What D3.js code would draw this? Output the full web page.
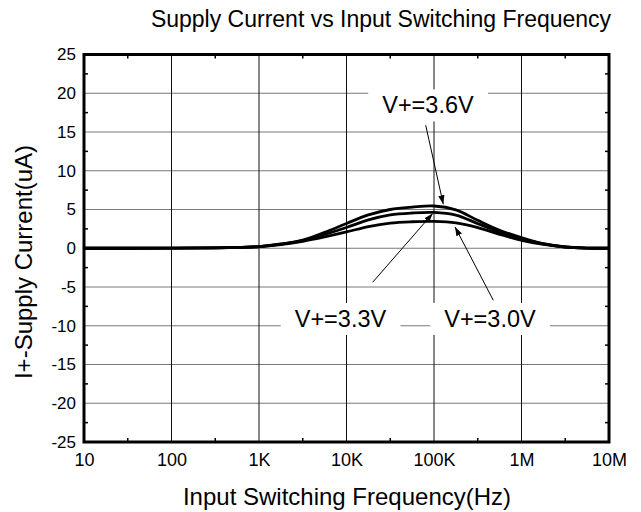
<!DOCTYPE html>
<html>
<head>
<meta charset="utf-8">
<script src="https://cdn.jsdelivr.net/npm/d3@7"></script>
<style>
  html, body { margin: 0; padding: 0; background: #fff; }
  text { font-family: Arial, "Liberation Sans", sans-serif; fill: #000; }
</style>
</head>
<body>
<svg id="chart" width="641" height="512"></svg>
<script>
// ---------- data ----------
const frequencies = [10, 100, 316, 562, 1000, 1778, 3162, 5623, 10000, 17783, 31623, 56234,
  100000, 177828, 316228, 562341, 1000000, 1778279, 3162278, 5623413, 10000000];
const current36 = [0, 0.01, 0.04, 0.1, 0.22, 0.55, 1.05, 2.05, 3.2, 4.3, 5.0, 5.3, 5.45, 4.95, 3.6, 2.32, 1.38, 0.6, 0.17, 0.02, 0];
const current33 = [0, 0.01, 0.04, 0.1, 0.21, 0.52, 0.98, 1.8, 2.68, 3.65, 4.3, 4.55, 4.62, 4.28, 3.18, 2.06, 1.2, 0.55, 0.16, 0.02, 0];
const current30 = [0, 0.01, 0.04, 0.1, 0.2, 0.48, 0.9, 1.46, 2.1, 2.8, 3.25, 3.42, 3.47, 3.28, 2.67, 1.8, 1.03, 0.5, 0.15, 0.02, 0];
const seriesNames = ["V+=3.6V", "V+=3.3V", "V+=3.0V"];
const xTickValues = [10, 100, 1000, 10000, 100000, 1000000, 10000000];
const xTickLabels = ["10", "100", "1K", "10K", "100K", "1M", "10M"];
const yTickValues = [25, 20, 15, 10, 5, 0, -5, -10, -15, -20, -25];
// annotations in data coordinates: label anchor + arrow start/end
const annotations = [
  { text: "V+=3.6V", lx: 85300, ly: 17.4, x0: 80400, y0: 15.87, x1: 127700, y1: 5.68 },
  { text: "V+=3.3V", lx: 8530, ly: -10.15, x0: 19900, y0: -4.39, x1: 96600, y1: 4.48 },
  { text: "V+=3.0V", lx: 436000, ly: -10.15, x0: 476000, y0: -6.71, x1: 174000, y1: 2.75 }
];
const title = "Supply Current vs Input Switching Frequency";
const xTitle = "Input Switching Frequency(Hz)";
const yTitle = "I+-Supply Current(uA)";

// ---------- layout ----------
const W = 641, H = 512;
const m = { left: 84, right: 32, top: 54.5, bottom: 70 };
const pw = W - m.left - m.right, ph = H - m.top - m.bottom;

const svg = d3.select("#chart");
const g = svg.append("g").attr("transform", `translate(${m.left},${m.top})`);

const x = d3.scaleLog().domain([10, 1e7]).range([0, pw]);
const y = d3.scaleLinear().domain([-25, 25]).range([ph, 0]);

// defs: arrowhead
svg.append("defs").append("marker")
  .attr("id", "arrow").attr("viewBox", "0 0 10 10")
  .attr("refX", 10).attr("refY", 5)
  .attr("markerWidth", 9).attr("markerHeight", 9)
  .attr("markerUnits", "userSpaceOnUse")
  .attr("orient", "auto")
  .append("path").attr("d", "M0,1.5 L10,5 L0,8.5 Z").attr("fill", "#000");

// horizontal gridlines (grey)
g.append("g").selectAll("line").data(yTickValues.filter(v => v > -25 && v < 25)).join("line")
  .attr("x1", 0).attr("x2", pw)
  .attr("y1", d => y(d)).attr("y2", d => y(d))
  .attr("stroke", "#7a7a7a").attr("stroke-width", 1.2);

// vertical gridlines (black)
g.append("g").selectAll("line").data(xTickValues.slice(1, -1)).join("line")
  .attr("x1", d => x(d)).attr("x2", d => x(d))
  .attr("y1", 0).attr("y2", ph)
  .attr("stroke", "#111").attr("stroke-width", 1);

// minor ticks: y every 2.5 on left/right, x at half-decades on top/bottom
const yMinor = d3.range(-22.5, 25, 5);
const xMinor = xTickValues.slice(0, -1).map(v => v * Math.sqrt(10));
const tk = 4;
const minor = g.append("g").attr("stroke", "#000").attr("stroke-width", 1.5);
yMinor.forEach(v => {
  minor.append("line").attr("x1", 0).attr("x2", tk).attr("y1", y(v)).attr("y2", y(v));
  minor.append("line").attr("x1", pw - tk).attr("x2", pw).attr("y1", y(v)).attr("y2", y(v));
});
xMinor.forEach(v => {
  minor.append("line").attr("x1", x(v)).attr("x2", x(v)).attr("y1", ph).attr("y2", ph - tk);
  minor.append("line").attr("x1", x(v)).attr("x2", x(v)).attr("y1", 0).attr("y2", tk);
});

// annotation label boxes (white) and labels
const ann = g.append("g");
annotations.forEach(a => {
  const t = ann.append("text")
    .attr("x", x(a.lx)).attr("y", y(a.ly))
    .attr("text-anchor", "middle")
    .style("font-size", "23.5px")
    .text(a.text);
  const bb = t.node().getBBox();
  ann.insert("rect", "text")
    .attr("x", bb.x - 14).attr("y", bb.y - 3)
    .attr("width", bb.width + 28).attr("height", bb.height + 6)
    .attr("fill", "#fff");
});

// curves
const line = d3.line()
  .x((d, i) => x(frequencies[i]))
  .y(d => y(d))
  .curve(d3.curveCatmullRom.alpha(0.5));
[current36, current33, current30].forEach((s, k) => {
  g.append("path").datum(s)
    .attr("d", line)
    .attr("fill", "none")
    .attr("stroke", "#000")
    .attr("stroke-width", 2.8)
    .attr("stroke-linejoin", "round")
    .attr("data-name", seriesNames[k]);
});

// arrows
annotations.forEach(a => {
  ann.append("line")
    .attr("x1", x(a.x0)).attr("y1", y(a.y0))
    .attr("x2", x(a.x1)).attr("y2", y(a.y1))
    .attr("stroke", "#000").attr("stroke-width", 1)
    .attr("marker-end", "url(#arrow)");
});
ann.raise();

// frame
g.append("rect").attr("x", 0).attr("y", 0).attr("width", pw).attr("height", ph)
  .attr("fill", "none").attr("stroke", "#000").attr("stroke-width", 3);

// axes tick labels
const xAxis = d3.axisBottom(x).tickValues(xTickValues)
  .tickFormat((d, i) => xTickLabels[i]).tickSize(0).tickPadding(11);
const gx = g.append("g").attr("transform", `translate(0,${ph})`).call(xAxis);
gx.select(".domain").remove();
gx.selectAll("text").style("font-size", "18px").attr("font-family", null);

const yAxis = d3.axisLeft(y).tickValues(yTickValues)
  .tickFormat(d => String(d)).tickSize(0).tickPadding(8);
const gy = g.append("g").call(yAxis);
gy.select(".domain").remove();
gy.selectAll("text").style("font-size", "17px").attr("font-family", null);

// titles
svg.append("text").attr("x", 381).attr("y", 27)
  .attr("text-anchor", "middle").style("font-size", "23px").text(title);
svg.append("text").attr("x", 347).attr("y", 505)
  .attr("text-anchor", "middle").style("font-size", "24px").text(xTitle);
svg.append("text")
  .attr("transform", "translate(32,262) rotate(-90)")
  .attr("text-anchor", "middle").style("font-size", "24px").text(yTitle);
</script>
</body>
</html>
